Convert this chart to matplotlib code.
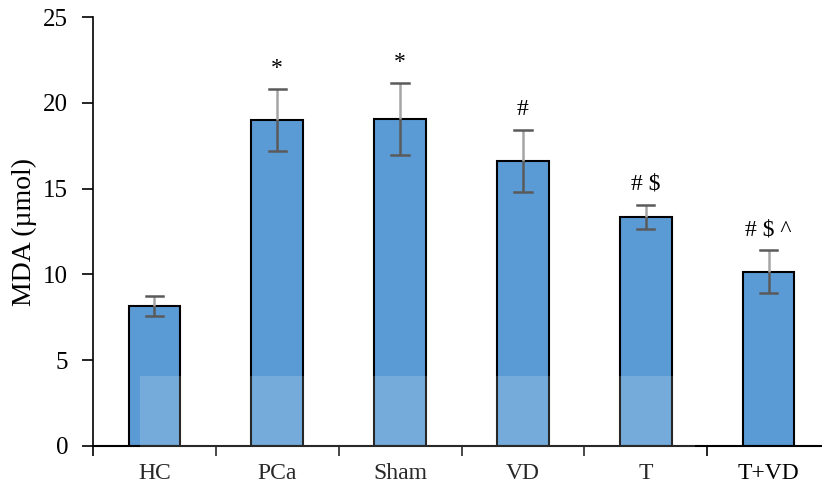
import matplotlib
matplotlib.use("Agg")
import matplotlib.pyplot as plt
from matplotlib.patches import Rectangle
import numpy as np

categories = ["HC", "PCa", "Sham", "VD", "T", "T+VD"]
values = [8.15, 19.0, 19.05, 16.6, 13.35, 10.15]
errors = [0.6, 1.8, 2.1, 1.8, 0.7, 1.25]
marks = ["", "*", "*", "#", "# $", "# $ ^"]
yticks = [0, 5, 10, 15, 20, 25]

plt.rcParams['font.family'] = ['Liberation Serif', 'DejaVu Serif']

fig = plt.figure(figsize=(8.22, 4.84), dpi=100)
ax = fig.add_axes([93/822, 1 - 446/484, (830 - 93)/822, (446 - 17)/484])

x = np.arange(len(categories))
ax.bar(x, values, width=0.42, color="#5B9BD5", edgecolor="black", linewidth=1.5, zorder=2)

for xi, v, e in zip(x, values, errors):
    ax.plot([xi, xi], [v - e, v], color="#5a5a5a", lw=1.8, zorder=3, solid_capstyle="butt")
    ax.plot([xi, xi], [v, v + e], color="#a5a5a5", lw=1.8, zorder=3, solid_capstyle="butt")
    ax.plot([xi - 0.07, xi + 0.07], [v + e, v + e], color="#5a5a5a", lw=1.8, zorder=3)
    ax.plot([xi - 0.07, xi + 0.07], [v - e, v - e], color="#5a5a5a", lw=1.8, zorder=3)

for xi, v, e, m in zip(x, values, errors, marks):
    if m:
        ax.text(xi, v + e + 0.6, m, ha="center", va="bottom", fontsize=17, color="black")

ax.set_xlim(-0.5, len(categories) - 0.5)
ax.set_ylim(0, 25)
ax.set_yticks(yticks)
ax.set_yticklabels([str(t) for t in yticks], fontsize=18)
ax.set_xticks(np.arange(len(categories) + 1) - 0.5, minor=False)
ax.set_xticklabels([])
ax.set_xticks(x, minor=True)
ax.set_xticklabels(categories, minor=True, fontsize=17)
ax.tick_params(axis="x", which="minor", length=0, pad=12)
ax.tick_params(axis="x", which="major", length=7, width=1.2, direction="out")
ax.tick_params(axis="y", length=8, width=1.2, direction="out", pad=10)
ax.spines["top"].set_visible(False)
ax.spines["right"].set_visible(False)
ax.spines["left"].set_linewidth(1.2)
ax.spines["bottom"].set_linewidth(1.5)
ax.set_ylabel("MDA (µmol)", fontsize=20)
ax.yaxis.set_label_coords(-56/737, 0.5)

fig.patches.append(Rectangle((140/822, 0), (695 - 140)/822, (484 - 376)/484,
                             transform=fig.transFigure, facecolor="white",
                             alpha=0.16, edgecolor="none", zorder=10))

fig.savefig("out.png", dpi=100)
